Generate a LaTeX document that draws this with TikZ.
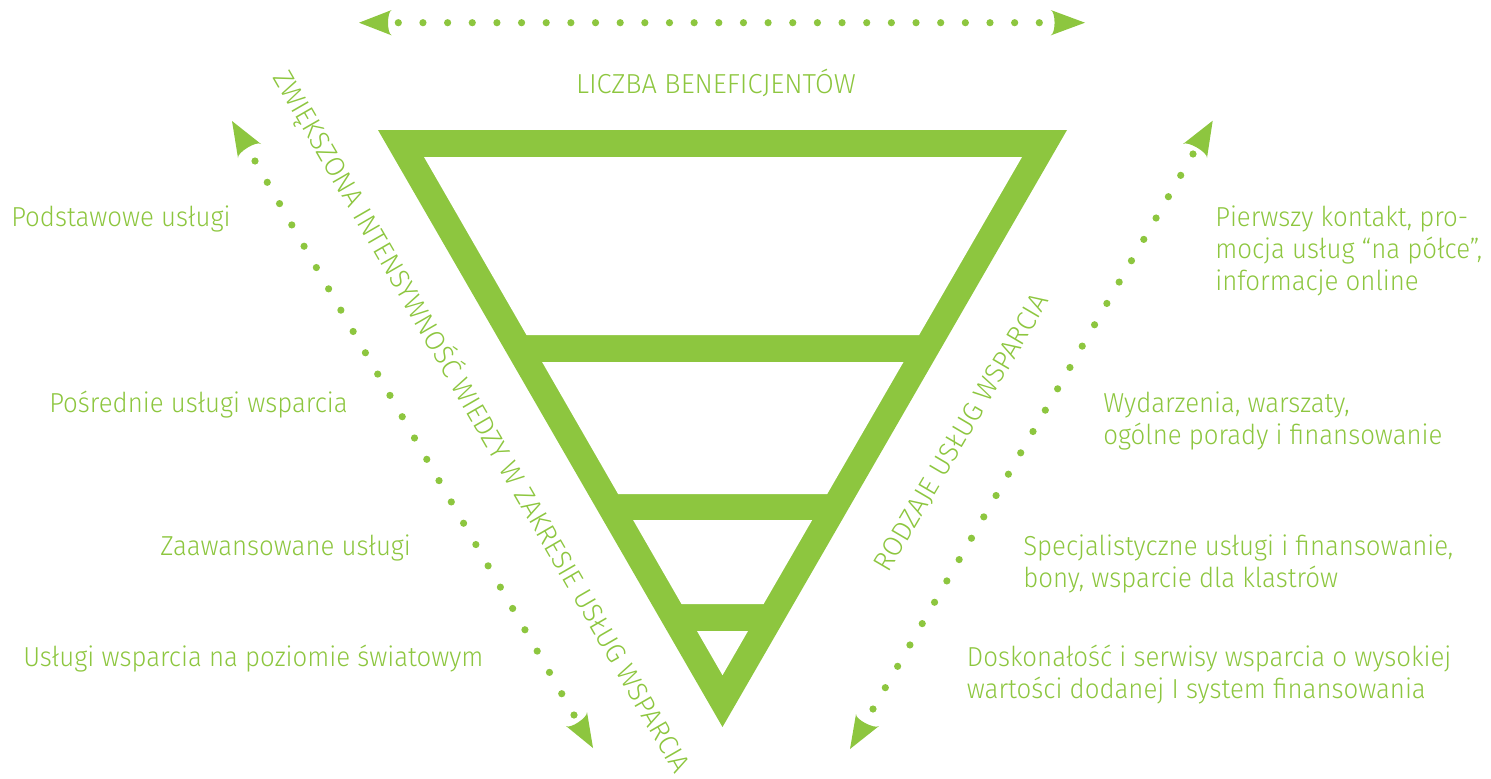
\documentclass[tikz,border=0pt]{standalone}
\usepackage{graphicx}
\usepackage{fontspec}
\setmainfont{Fira Sans Light}
\usetikzlibrary{calc}
\definecolor{lime}{RGB}{141,198,63}
\newcommand\sq[1]{\scalebox{0.94}[1]{#1}}
\newcommand\sqc[1]{\scalebox{0.99}[1]{#1}}
\newcommand\arrhead[3]{\fill[lime] (#1) -- (#2) .. controls ($(#2)!0.15!(#1)$) and ($(#3)!0.15!(#1)$) .. (#3) -- cycle;}
\newcommand\dotrow[2]{\foreach \i in {0,...,26} \fill[lime] ($(#1)!\i/26!(#2)$) circle (3.6);}
\begin{document}
\begin{tikzpicture}[x=0.75pt,y=-0.75pt,
  lbl/.style={text=lime, inner sep=0pt, font=\fontsize{20.6}{24}\selectfont, anchor=base west},
  captxt/.style={text=lime, inner sep=0pt, font=\fontsize{20.6}{24}\selectfont, anchor=base}]
\useasboundingbox (0,0) rectangle (1491,778);

% funnel
\fill[lime] (378,130) -- (1067,130) -- (722.5,727) -- cycle;
\fill[white] (424,157) -- (1022,157) -- (919.1,335) -- (526.5,335) -- cycle;
\fill[white] (542.1,362) -- (903.5,362) -- (827.2,494) -- (618.1,494) -- cycle;
\fill[white] (633.1,520) -- (812.2,520) -- (763.6,604) -- (681.5,604) -- cycle;
\fill[white] (697,631) -- (748,631) -- (722.5,675.2) -- cycle;

% top dotted arrow
\coordinate (ta) at (398.3,22.7);
\coordinate (tb) at (1039.3,22.7);
\coordinate (taTip) at (359,22.7);
\coordinate (taC1) at (391.7,10);
\coordinate (taC2) at (391.7,35.4);
\coordinate (tbTip) at (1085,22.7);
\coordinate (tbC1) at (1050.7,10);
\coordinate (tbC2) at (1050.7,35.4);
\dotrow{ta}{tb}
\arrhead{taTip}{taC1}{taC2}
\arrhead{tbTip}{tbC1}{tbC2}

% left dotted arrow
\coordinate (la) at (255,161);
\coordinate (lb) at (574,715);
\coordinate (laTip) at (232,121);
\coordinate (laC1) at (238,158);
\coordinate (laC2) at (261,144);
\coordinate (lbTip) at (593,748);
\coordinate (lbC1) at (566,726);
\coordinate (lbC2) at (587,712);
\dotrow{la}{lb}
\arrhead{laTip}{laC1}{laC2}
\arrhead{lbTip}{lbC1}{lbC2}

% right dotted arrow
\coordinate (ra) at (1193,154);
\coordinate (rb) at (873,709);
\coordinate (raTip) at (1212.7,120.7);
\coordinate (raC1) at (1183,144);
\coordinate (raC2) at (1207,158);
\coordinate (rbTip) at (850,749);
\coordinate (rbC1) at (856,714);
\coordinate (rbC2) at (879,726);
\dotrow{ra}{rb}
\arrhead{raTip}{raC1}{raC2}
\arrhead{rbTip}{rbC1}{rbC2}

% captions
\node[captxt] (liczba) at (716,93) {\sqc{LICZBA BENEFICJENTÓW}};
\node[captxt, rotate=-60] (zwiekszona) at (474,426) {\sqc{ZWIĘKSZONA INTENSYWNOŚĆ WIEDZY W ZAKRESIE USŁUG WSPARCIA}};
\node[captxt, rotate=59.5] (rodzaje) at (969,437) {\sqc{RODZAJE USŁUG WSPARCIA}};

% left labels
\node[lbl] (l1) at (11,226) {\sq{Podstawowe usługi}};
\node[lbl] (l2) at (49,412) {\sq{Pośrednie usługi wsparcia}};
\node[lbl] (l3) at (160,555) {\sq{Zaawansowane usługi}};
\node[lbl] (l4) at (23,666) {\sq{Usługi wsparcia na poziomie światowym}};

% right labels
\node[lbl] (r1) at (1215,226) {\sq{\begin{tabular}[t]{@{}l@{}}Pierwszy kontakt, pro-\\mocja usług “na półce”,\\informacje online\end{tabular}}};
\node[lbl] (r2) at (1103,412) {\sq{\begin{tabular}[t]{@{}l@{}}Wydarzenia, warszaty,\\ogólne porady i finansowanie\end{tabular}}};
\node[lbl] (r3) at (1023,555) {\sq{\begin{tabular}[t]{@{}l@{}}Specjalistyczne usługi i finansowanie,\\bony, wsparcie dla klastrów\end{tabular}}};
\node[lbl] (r4) at (966.7,666) {\sq{\begin{tabular}[t]{@{}l@{}}Doskonałość i serwisy wsparcia o wysokiej\\wartości dodanej I system finansowania\end{tabular}}};
\end{tikzpicture}
\end{document}
